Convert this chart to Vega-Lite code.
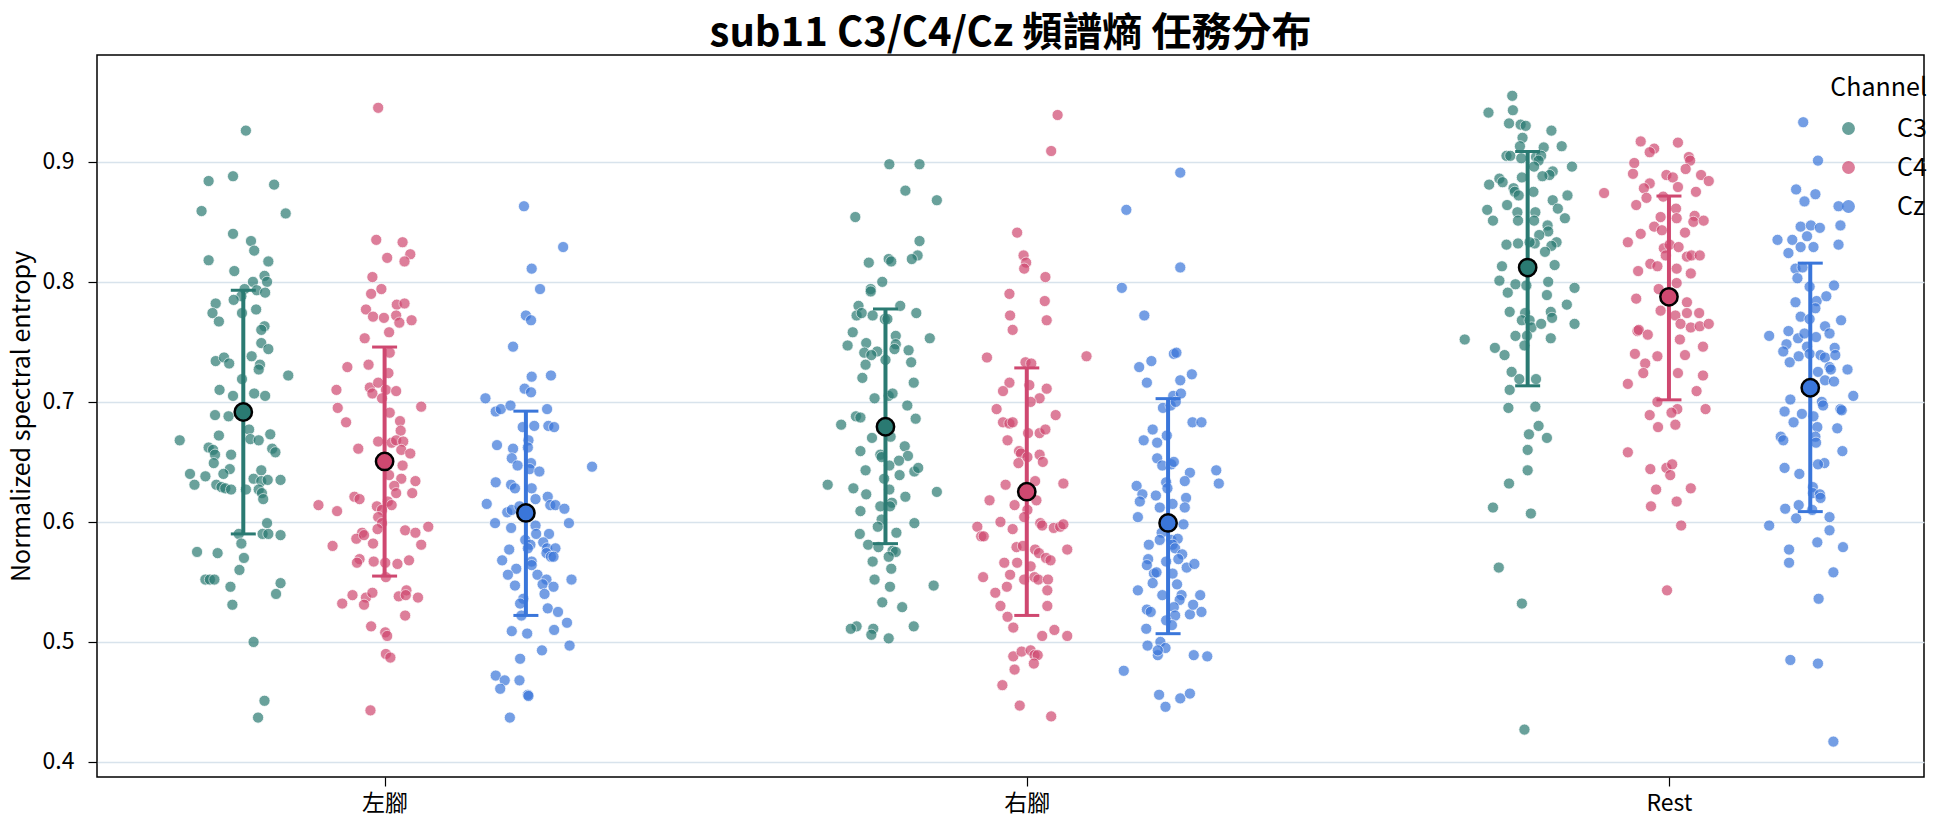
{
"$schema":"https://vega.github.io/schema/vega-lite/v6.json",
"width":1827,"height":722,
"autosize":{"type":"none"},
"padding":{"left":97,"top":55,"right":20,"bottom":50},
"background":"white",
"title":{"text":"sub11 C3/C4/Cz 頻譜熵 任務分布","fontSize":40,"fontWeight":"bold","font":"Noto Sans CJK TC","anchor":"middle","offset":1,"color":"black"},
"config":{"view":{"stroke":"black","strokeWidth":1.5},"font":"Noto Sans CJK TC"},
"datasets":{
"stats":[
{"task":"左腳","channel":"C3","mean":0.6916,"lo":0.590,"hi":0.793},
{"task":"左腳","channel":"C4","mean":0.6504,"lo":0.5549,"hi":0.7457},
{"task":"左腳","channel":"Cz","mean":0.6075,"lo":0.5221,"hi":0.6923},
{"task":"右腳","channel":"C3","mean":0.6793,"lo":0.5819,"hi":0.7774},
{"task":"右腳","channel":"C4","mean":0.6252,"lo":0.5221,"hi":0.7283},
{"task":"右腳","channel":"Cz","mean":0.5992,"lo":0.5069,"hi":0.7027},
{"task":"Rest","channel":"C3","mean":0.8119,"lo":0.7134,"hi":0.9086},
{"task":"Rest","channel":"C4","mean":0.7875,"lo":0.7017,"hi":0.8715},
{"task":"Rest","channel":"Cz","mean":0.7118,"lo":0.6086,"hi":0.8156}
],
"pts":[
{"task":"左腳","channel":"C3","value":0.926,"jitter":0.004},{"task":"左腳","channel":"C3","value":0.884,"jitter":-0.054},{"task":"左腳","channel":"C3","value":0.888,"jitter":-0.016},{"task":"左腳","channel":"C3","value":0.881,"jitter":0.048},{"task":"左腳","channel":"C3","value":0.859,"jitter":-0.065},{"task":"左腳","channel":"C3","value":0.857,"jitter":0.066},{"task":"左腳","channel":"C3","value":0.840,"jitter":-0.016},{"task":"左腳","channel":"C3","value":0.834,"jitter":0.012},{"task":"左腳","channel":"C3","value":0.826,"jitter":0.017},{"task":"左腳","channel":"C3","value":0.818,"jitter":-0.054},{"task":"左腳","channel":"C3","value":0.817,"jitter":0.039},{"task":"左腳","channel":"C3","value":0.809,"jitter":-0.014},{"task":"左腳","channel":"C3","value":0.805,"jitter":0.033},{"task":"左腳","channel":"C3","value":0.800,"jitter":0.037},{"task":"左腳","channel":"C3","value":0.800,"jitter":0.015},{"task":"左腳","channel":"C3","value":0.794,"jitter":0.002},{"task":"左腳","channel":"C3","value":0.793,"jitter":0.021},{"task":"左腳","channel":"C3","value":0.791,"jitter":0.034},{"task":"左腳","channel":"C3","value":0.788,"jitter":-0.003},{"task":"左腳","channel":"C3","value":0.785,"jitter":-0.015},{"task":"左腳","channel":"C3","value":0.782,"jitter":-0.043},{"task":"左腳","channel":"C3","value":0.774,"jitter":-0.048},{"task":"左腳","channel":"C3","value":0.774,"jitter":-0.002},{"task":"左腳","channel":"C3","value":0.777,"jitter":0.020},{"task":"左腳","channel":"C3","value":0.767,"jitter":-0.038},{"task":"左腳","channel":"C3","value":0.763,"jitter":0.033},{"task":"左腳","channel":"C3","value":0.760,"jitter":0.028},{"task":"左腳","channel":"C3","value":0.749,"jitter":0.028},{"task":"左腳","channel":"C3","value":0.744,"jitter":0.039},{"task":"左腳","channel":"C3","value":0.734,"jitter":-0.043},{"task":"左腳","channel":"C3","value":0.737,"jitter":-0.030},{"task":"左腳","channel":"C3","value":0.732,"jitter":-0.022},{"task":"左腳","channel":"C3","value":0.738,"jitter":0.013},{"task":"左腳","channel":"C3","value":0.731,"jitter":0.026},{"task":"左腳","channel":"C3","value":0.727,"jitter":0.024},{"task":"左腳","channel":"C3","value":0.722,"jitter":0.070},{"task":"左腳","channel":"C3","value":0.719,"jitter":-0.002},{"task":"左腳","channel":"C3","value":0.710,"jitter":-0.037},{"task":"左腳","channel":"C3","value":0.705,"jitter":-0.016},{"task":"左腳","channel":"C3","value":0.707,"jitter":0.017},{"task":"左腳","channel":"C3","value":0.705,"jitter":0.034},{"task":"左腳","channel":"C3","value":0.689,"jitter":-0.044},{"task":"左腳","channel":"C3","value":0.688,"jitter":-0.023},{"task":"左腳","channel":"C3","value":0.677,"jitter":0.009},{"task":"左腳","channel":"C3","value":0.669,"jitter":0.011},{"task":"左腳","channel":"C3","value":0.668,"jitter":0.024},{"task":"左腳","channel":"C3","value":0.673,"jitter":0.042},{"task":"左腳","channel":"C3","value":0.672,"jitter":-0.038},{"task":"左腳","channel":"C3","value":0.668,"jitter":-0.099},{"task":"左腳","channel":"C3","value":0.662,"jitter":-0.054},{"task":"左腳","channel":"C3","value":0.660,"jitter":-0.047},{"task":"左腳","channel":"C3","value":0.656,"jitter":-0.044},{"task":"左腳","channel":"C3","value":0.649,"jitter":-0.046},{"task":"左腳","channel":"C3","value":0.661,"jitter":0.045},{"task":"左腳","channel":"C3","value":0.658,"jitter":0.050},{"task":"左腳","channel":"C3","value":0.656,"jitter":-0.019},{"task":"左腳","channel":"C3","value":0.644,"jitter":-0.021},{"task":"左腳","channel":"C3","value":0.640,"jitter":-0.031},{"task":"左腳","channel":"C3","value":0.640,"jitter":-0.083},{"task":"左腳","channel":"C3","value":0.638,"jitter":-0.059},{"task":"左腳","channel":"C3","value":0.631,"jitter":-0.076},{"task":"左腳","channel":"C3","value":0.631,"jitter":-0.042},{"task":"左腳","channel":"C3","value":0.629,"jitter":-0.034},{"task":"左腳","channel":"C3","value":0.628,"jitter":-0.028},{"task":"左腳","channel":"C3","value":0.627,"jitter":-0.019},{"task":"左腳","channel":"C3","value":0.627,"jitter":0.004},{"task":"左腳","channel":"C3","value":0.636,"jitter":0.016},{"task":"左腳","channel":"C3","value":0.643,"jitter":0.028},{"task":"左腳","channel":"C3","value":0.634,"jitter":0.028},{"task":"左腳","channel":"C3","value":0.635,"jitter":0.038},{"task":"左腳","channel":"C3","value":0.635,"jitter":0.058},{"task":"左腳","channel":"C3","value":0.627,"jitter":0.024},{"task":"左腳","channel":"C3","value":0.624,"jitter":0.029},{"task":"左腳","channel":"C3","value":0.619,"jitter":0.031},{"task":"左腳","channel":"C3","value":0.599,"jitter":0.037},{"task":"左腳","channel":"C3","value":0.590,"jitter":-0.007},{"task":"左腳","channel":"C3","value":0.590,"jitter":0.030},{"task":"左腳","channel":"C3","value":0.590,"jitter":0.039},{"task":"左腳","channel":"C3","value":0.589,"jitter":0.058},{"task":"左腳","channel":"C3","value":0.582,"jitter":-0.003},{"task":"左腳","channel":"C3","value":0.570,"jitter":0.001},{"task":"左腳","channel":"C3","value":0.575,"jitter":-0.072},{"task":"左腳","channel":"C3","value":0.574,"jitter":-0.040},{"task":"左腳","channel":"C3","value":0.560,"jitter":-0.006},{"task":"左腳","channel":"C3","value":0.552,"jitter":-0.059},{"task":"左腳","channel":"C3","value":0.552,"jitter":-0.052},{"task":"左腳","channel":"C3","value":0.552,"jitter":-0.045},{"task":"左腳","channel":"C3","value":0.546,"jitter":-0.020},{"task":"左腳","channel":"C3","value":0.549,"jitter":0.058},{"task":"左腳","channel":"C3","value":0.540,"jitter":0.051},{"task":"左腳","channel":"C3","value":0.531,"jitter":-0.017},{"task":"左腳","channel":"C3","value":0.500,"jitter":0.016},{"task":"左腳","channel":"C3","value":0.451,"jitter":0.033},{"task":"左腳","channel":"C3","value":0.437,"jitter":0.023},
{"task":"左腳","channel":"C4","value":0.945,"jitter":-0.010},{"task":"左腳","channel":"C4","value":0.835,"jitter":-0.013},{"task":"左腳","channel":"C4","value":0.833,"jitter":0.028},{"task":"左腳","channel":"C4","value":0.820,"jitter":0.004},{"task":"左腳","channel":"C4","value":0.823,"jitter":0.040},{"task":"左腳","channel":"C4","value":0.817,"jitter":0.031},{"task":"左腳","channel":"C4","value":0.804,"jitter":-0.019},{"task":"左腳","channel":"C4","value":0.794,"jitter":-0.005},{"task":"左腳","channel":"C4","value":0.790,"jitter":-0.021},{"task":"左腳","channel":"C4","value":0.777,"jitter":-0.029},{"task":"左腳","channel":"C4","value":0.781,"jitter":0.019},{"task":"左腳","channel":"C4","value":0.782,"jitter":0.031},{"task":"左腳","channel":"C4","value":0.771,"jitter":-0.018},{"task":"左腳","channel":"C4","value":0.770,"jitter":-0.001},{"task":"左腳","channel":"C4","value":0.772,"jitter":0.018},{"task":"左腳","channel":"C4","value":0.766,"jitter":0.023},{"task":"左腳","channel":"C4","value":0.768,"jitter":0.042},{"task":"左腳","channel":"C4","value":0.758,"jitter":0.007},{"task":"左腳","channel":"C4","value":0.753,"jitter":-0.031},{"task":"左腳","channel":"C4","value":0.741,"jitter":0.008},{"task":"左腳","channel":"C4","value":0.729,"jitter":-0.058},{"task":"左腳","channel":"C4","value":0.731,"jitter":-0.025},{"task":"左腳","channel":"C4","value":0.724,"jitter":0.006},{"task":"左腳","channel":"C4","value":0.710,"jitter":-0.075},{"task":"左腳","channel":"C4","value":0.712,"jitter":-0.023},{"task":"左腳","channel":"C4","value":0.716,"jitter":-0.010},{"task":"左腳","channel":"C4","value":0.707,"jitter":-0.019},{"task":"左腳","channel":"C4","value":0.710,"jitter":0.002},{"task":"左腳","channel":"C4","value":0.709,"jitter":0.018},{"task":"左腳","channel":"C4","value":0.703,"jitter":-0.004},{"task":"左腳","channel":"C4","value":0.695,"jitter":-0.073},{"task":"左腳","channel":"C4","value":0.691,"jitter":0.008},{"task":"左腳","channel":"C4","value":0.696,"jitter":0.057},{"task":"左腳","channel":"C4","value":0.684,"jitter":0.024},{"task":"左腳","channel":"C4","value":0.683,"jitter":-0.060},{"task":"左腳","channel":"C4","value":0.676,"jitter":0.025},{"task":"左腳","channel":"C4","value":0.667,"jitter":-0.010},{"task":"左腳","channel":"C4","value":0.666,"jitter":0.011},{"task":"左腳","channel":"C4","value":0.668,"jitter":0.018},{"task":"左腳","channel":"C4","value":0.667,"jitter":0.029},{"task":"左腳","channel":"C4","value":0.661,"jitter":-0.041},{"task":"左腳","channel":"C4","value":0.660,"jitter":0.026},{"task":"左腳","channel":"C4","value":0.657,"jitter":0.040},{"task":"左腳","channel":"C4","value":0.647,"jitter":0.028},{"task":"左腳","channel":"C4","value":0.639,"jitter":0.007},{"task":"左腳","channel":"C4","value":0.636,"jitter":0.026},{"task":"左腳","channel":"C4","value":0.634,"jitter":0.048},{"task":"左腳","channel":"C4","value":0.630,"jitter":0.015},{"task":"左腳","channel":"C4","value":0.624,"jitter":0.018},{"task":"左腳","channel":"C4","value":0.624,"jitter":0.043},{"task":"左腳","channel":"C4","value":0.621,"jitter":-0.047},{"task":"左腳","channel":"C4","value":0.619,"jitter":-0.039},{"task":"左腳","channel":"C4","value":0.617,"jitter":0.005},{"task":"左腳","channel":"C4","value":0.614,"jitter":0.011},{"task":"左腳","channel":"C4","value":0.614,"jitter":-0.103},{"task":"左腳","channel":"C4","value":0.609,"jitter":-0.074},{"task":"左腳","channel":"C4","value":0.613,"jitter":-0.012},{"task":"左腳","channel":"C4","value":0.610,"jitter":-0.004},{"task":"左腳","channel":"C4","value":0.604,"jitter":-0.010},{"task":"左腳","channel":"C4","value":0.599,"jitter":-0.004},{"task":"左腳","channel":"C4","value":0.594,"jitter":-0.011},{"task":"左腳","channel":"C4","value":0.591,"jitter":-0.035},{"task":"左腳","channel":"C4","value":0.586,"jitter":-0.044},{"task":"左腳","channel":"C4","value":0.589,"jitter":-0.032},{"task":"左腳","channel":"C4","value":0.582,"jitter":-0.018},{"task":"左腳","channel":"C4","value":0.593,"jitter":0.032},{"task":"左腳","channel":"C4","value":0.591,"jitter":0.048},{"task":"左腳","channel":"C4","value":0.596,"jitter":0.068},{"task":"左腳","channel":"C4","value":0.581,"jitter":0.057},{"task":"左腳","channel":"C4","value":0.580,"jitter":-0.081},{"task":"左腳","channel":"C4","value":0.569,"jitter":-0.039},{"task":"左腳","channel":"C4","value":0.566,"jitter":-0.043},{"task":"左腳","channel":"C4","value":0.567,"jitter":-0.017},{"task":"左腳","channel":"C4","value":0.566,"jitter":0.001},{"task":"左腳","channel":"C4","value":0.565,"jitter":0.020},{"task":"左腳","channel":"C4","value":0.568,"jitter":0.038},{"task":"左腳","channel":"C4","value":0.554,"jitter":0.002},{"task":"左腳","channel":"C4","value":0.539,"jitter":-0.050},{"task":"左腳","channel":"C4","value":0.532,"jitter":-0.066},{"task":"左腳","channel":"C4","value":0.537,"jitter":-0.029},{"task":"左腳","channel":"C4","value":0.531,"jitter":-0.032},{"task":"左腳","channel":"C4","value":0.541,"jitter":-0.019},{"task":"左腳","channel":"C4","value":0.538,"jitter":0.022},{"task":"左腳","channel":"C4","value":0.543,"jitter":0.034},{"task":"左腳","channel":"C4","value":0.539,"jitter":0.033},{"task":"左腳","channel":"C4","value":0.537,"jitter":0.052},{"task":"左腳","channel":"C4","value":0.522,"jitter":0.032},{"task":"左腳","channel":"C4","value":0.513,"jitter":-0.021},{"task":"左腳","channel":"C4","value":0.508,"jitter":0.001},{"task":"左腳","channel":"C4","value":0.505,"jitter":0.004},{"task":"左腳","channel":"C4","value":0.490,"jitter":0.002},{"task":"左腳","channel":"C4","value":0.487,"jitter":0.009},{"task":"左腳","channel":"C4","value":0.443,"jitter":-0.022},
{"task":"左腳","channel":"Cz","value":0.863,"jitter":-0.003},{"task":"左腳","channel":"Cz","value":0.829,"jitter":0.058},{"task":"左腳","channel":"Cz","value":0.811,"jitter":0.009},{"task":"左腳","channel":"Cz","value":0.794,"jitter":0.022},{"task":"左腳","channel":"Cz","value":0.772,"jitter":0.000},{"task":"左腳","channel":"Cz","value":0.768,"jitter":0.008},{"task":"左腳","channel":"Cz","value":0.746,"jitter":-0.020},{"task":"左腳","channel":"Cz","value":0.721,"jitter":0.009},{"task":"左腳","channel":"Cz","value":0.722,"jitter":0.039},{"task":"左腳","channel":"Cz","value":0.711,"jitter":-0.002},{"task":"左腳","channel":"Cz","value":0.708,"jitter":0.008},{"task":"左腳","channel":"Cz","value":0.703,"jitter":-0.063},{"task":"左腳","channel":"Cz","value":0.692,"jitter":-0.047},{"task":"左腳","channel":"Cz","value":0.694,"jitter":-0.039},{"task":"左腳","channel":"Cz","value":0.697,"jitter":-0.024},{"task":"左腳","channel":"Cz","value":0.694,"jitter":0.033},{"task":"左腳","channel":"Cz","value":0.679,"jitter":-0.005},{"task":"左腳","channel":"Cz","value":0.680,"jitter":0.013},{"task":"左腳","channel":"Cz","value":0.680,"jitter":0.035},{"task":"左腳","channel":"Cz","value":0.679,"jitter":0.044},{"task":"左腳","channel":"Cz","value":0.668,"jitter":0.004},{"task":"左腳","channel":"Cz","value":0.662,"jitter":0.003},{"task":"左腳","channel":"Cz","value":0.664,"jitter":-0.045},{"task":"左腳","channel":"Cz","value":0.661,"jitter":-0.020},{"task":"左腳","channel":"Cz","value":0.653,"jitter":-0.022},{"task":"左腳","channel":"Cz","value":0.647,"jitter":-0.013},{"task":"左腳","channel":"Cz","value":0.649,"jitter":0.008},{"task":"左腳","channel":"Cz","value":0.644,"jitter":0.006},{"task":"左腳","channel":"Cz","value":0.642,"jitter":0.021},{"task":"左腳","channel":"Cz","value":0.646,"jitter":0.103},{"task":"左腳","channel":"Cz","value":0.633,"jitter":-0.047},{"task":"左腳","channel":"Cz","value":0.631,"jitter":-0.023},{"task":"左腳","channel":"Cz","value":0.628,"jitter":-0.017},{"task":"左腳","channel":"Cz","value":0.628,"jitter":0.009},{"task":"左腳","channel":"Cz","value":0.619,"jitter":0.015},{"task":"左腳","channel":"Cz","value":0.621,"jitter":0.034},{"task":"左腳","channel":"Cz","value":0.614,"jitter":0.038},{"task":"左腳","channel":"Cz","value":0.614,"jitter":0.046},{"task":"左腳","channel":"Cz","value":0.611,"jitter":0.060},{"task":"左腳","channel":"Cz","value":0.615,"jitter":-0.061},{"task":"左腳","channel":"Cz","value":0.608,"jitter":-0.029},{"task":"左腳","channel":"Cz","value":0.610,"jitter":-0.022},{"task":"左腳","channel":"Cz","value":0.613,"jitter":-0.010},{"task":"左腳","channel":"Cz","value":0.599,"jitter":-0.048},{"task":"左腳","channel":"Cz","value":0.595,"jitter":-0.023},{"task":"左腳","channel":"Cz","value":0.597,"jitter":0.015},{"task":"左腳","channel":"Cz","value":0.590,"jitter":0.016},{"task":"左腳","channel":"Cz","value":0.590,"jitter":0.036},{"task":"左腳","channel":"Cz","value":0.599,"jitter":0.067},{"task":"左腳","channel":"Cz","value":0.585,"jitter":-0.001},{"task":"左腳","channel":"Cz","value":0.581,"jitter":0.007},{"task":"左腳","channel":"Cz","value":0.578,"jitter":0.003},{"task":"左腳","channel":"Cz","value":0.583,"jitter":0.027},{"task":"左腳","channel":"Cz","value":0.578,"jitter":0.033},{"task":"左腳","channel":"Cz","value":0.578,"jitter":0.046},{"task":"左腳","channel":"Cz","value":0.574,"jitter":0.032},{"task":"左腳","channel":"Cz","value":0.571,"jitter":0.039},{"task":"左腳","channel":"Cz","value":0.571,"jitter":0.043},{"task":"左腳","channel":"Cz","value":0.577,"jitter":-0.026},{"task":"左腳","channel":"Cz","value":0.568,"jitter":-0.037},{"task":"左腳","channel":"Cz","value":0.567,"jitter":0.009},{"task":"左腳","channel":"Cz","value":0.564,"jitter":0.009},{"task":"左腳","channel":"Cz","value":0.561,"jitter":-0.015},{"task":"左腳","channel":"Cz","value":0.556,"jitter":-0.028},{"task":"左腳","channel":"Cz","value":0.556,"jitter":0.018},{"task":"左腳","channel":"Cz","value":0.552,"jitter":0.032},{"task":"左腳","channel":"Cz","value":0.548,"jitter":0.026},{"task":"左腳","channel":"Cz","value":0.546,"jitter":0.043},{"task":"左腳","channel":"Cz","value":0.552,"jitter":0.071},{"task":"左腳","channel":"Cz","value":0.547,"jitter":-0.017},{"task":"左腳","channel":"Cz","value":0.540,"jitter":0.029},{"task":"左腳","channel":"Cz","value":0.536,"jitter":-0.004},{"task":"左腳","channel":"Cz","value":0.532,"jitter":-0.009},{"task":"左腳","channel":"Cz","value":0.522,"jitter":-0.007},{"task":"左腳","channel":"Cz","value":0.528,"jitter":0.034},{"task":"左腳","channel":"Cz","value":0.525,"jitter":0.050},{"task":"左腳","channel":"Cz","value":0.516,"jitter":0.064},{"task":"左腳","channel":"Cz","value":0.509,"jitter":-0.022},{"task":"左腳","channel":"Cz","value":0.507,"jitter":0.002},{"task":"左腳","channel":"Cz","value":0.510,"jitter":0.044},{"task":"左腳","channel":"Cz","value":0.497,"jitter":0.068},{"task":"左腳","channel":"Cz","value":0.493,"jitter":0.025},{"task":"左腳","channel":"Cz","value":0.486,"jitter":-0.009},{"task":"左腳","channel":"Cz","value":0.472,"jitter":-0.047},{"task":"左腳","channel":"Cz","value":0.468,"jitter":-0.033},{"task":"左腳","channel":"Cz","value":0.461,"jitter":-0.040},{"task":"左腳","channel":"Cz","value":0.468,"jitter":-0.010},{"task":"左腳","channel":"Cz","value":0.456,"jitter":0.003},{"task":"左腳","channel":"Cz","value":0.455,"jitter":0.004},{"task":"左腳","channel":"Cz","value":0.437,"jitter":-0.025},
{"task":"右腳","channel":"C3","value":0.898,"jitter":0.006},{"task":"右腳","channel":"C3","value":0.898,"jitter":0.053},{"task":"右腳","channel":"C3","value":0.876,"jitter":0.031},{"task":"右腳","channel":"C3","value":0.868,"jitter":0.080},{"task":"右腳","channel":"C3","value":0.854,"jitter":-0.047},{"task":"右腳","channel":"C3","value":0.834,"jitter":0.053},{"task":"右腳","channel":"C3","value":0.822,"jitter":0.050},{"task":"右腳","channel":"C3","value":0.819,"jitter":0.041},{"task":"右腳","channel":"C3","value":0.816,"jitter":-0.026},{"task":"右腳","channel":"C3","value":0.819,"jitter":0.005},{"task":"右腳","channel":"C3","value":0.817,"jitter":0.009},{"task":"右腳","channel":"C3","value":0.800,"jitter":-0.005},{"task":"右腳","channel":"C3","value":0.794,"jitter":-0.023},{"task":"右腳","channel":"C3","value":0.792,"jitter":-0.023},{"task":"右腳","channel":"C3","value":0.780,"jitter":-0.042},{"task":"右腳","channel":"C3","value":0.772,"jitter":-0.045},{"task":"右腳","channel":"C3","value":0.774,"jitter":-0.037},{"task":"右腳","channel":"C3","value":0.772,"jitter":-0.020},{"task":"右腳","channel":"C3","value":0.769,"jitter":-0.001},{"task":"右腳","channel":"C3","value":0.769,"jitter":0.003},{"task":"右腳","channel":"C3","value":0.780,"jitter":0.023},{"task":"右腳","channel":"C3","value":0.774,"jitter":0.048},{"task":"右腳","channel":"C3","value":0.758,"jitter":-0.051},{"task":"右腳","channel":"C3","value":0.747,"jitter":-0.059},{"task":"右腳","channel":"C3","value":0.749,"jitter":-0.030},{"task":"右腳","channel":"C3","value":0.741,"jitter":-0.033},{"task":"右腳","channel":"C3","value":0.742,"jitter":-0.013},{"task":"右腳","channel":"C3","value":0.739,"jitter":-0.022},{"task":"右腳","channel":"C3","value":0.731,"jitter":-0.031},{"task":"右腳","channel":"C3","value":0.735,"jitter":0.000},{"task":"右腳","channel":"C3","value":0.755,"jitter":0.016},{"task":"右腳","channel":"C3","value":0.748,"jitter":0.016},{"task":"右腳","channel":"C3","value":0.744,"jitter":0.014},{"task":"右腳","channel":"C3","value":0.743,"jitter":0.036},{"task":"右腳","channel":"C3","value":0.733,"jitter":0.040},{"task":"右腳","channel":"C3","value":0.753,"jitter":0.069},{"task":"右腳","channel":"C3","value":0.720,"jitter":-0.036},{"task":"右腳","channel":"C3","value":0.716,"jitter":0.044},{"task":"右腳","channel":"C3","value":0.703,"jitter":-0.017},{"task":"右腳","channel":"C3","value":0.705,"jitter":0.005},{"task":"右腳","channel":"C3","value":0.707,"jitter":0.011},{"task":"右腳","channel":"C3","value":0.697,"jitter":0.034},{"task":"右腳","channel":"C3","value":0.688,"jitter":-0.046},{"task":"右腳","channel":"C3","value":0.687,"jitter":-0.039},{"task":"右腳","channel":"C3","value":0.681,"jitter":-0.069},{"task":"右腳","channel":"C3","value":0.686,"jitter":0.047},{"task":"右腳","channel":"C3","value":0.670,"jitter":-0.021},{"task":"右腳","channel":"C3","value":0.671,"jitter":0.008},{"task":"右腳","channel":"C3","value":0.659,"jitter":-0.039},{"task":"右腳","channel":"C3","value":0.656,"jitter":-0.008},{"task":"右腳","channel":"C3","value":0.654,"jitter":-0.006},{"task":"右腳","channel":"C3","value":0.663,"jitter":0.030},{"task":"右腳","channel":"C3","value":0.655,"jitter":0.035},{"task":"右腳","channel":"C3","value":0.651,"jitter":0.021},{"task":"右腳","channel":"C3","value":0.647,"jitter":0.006},{"task":"右腳","channel":"C3","value":0.643,"jitter":-0.031},{"task":"右腳","channel":"C3","value":0.642,"jitter":0.045},{"task":"右腳","channel":"C3","value":0.645,"jitter":0.051},{"task":"右腳","channel":"C3","value":0.639,"jitter":0.022},{"task":"右腳","channel":"C3","value":0.636,"jitter":-0.002},{"task":"右腳","channel":"C3","value":0.631,"jitter":-0.090},{"task":"右腳","channel":"C3","value":0.628,"jitter":-0.050},{"task":"右腳","channel":"C3","value":0.623,"jitter":-0.030},{"task":"右腳","channel":"C3","value":0.627,"jitter":0.006},{"task":"右腳","channel":"C3","value":0.616,"jitter":0.010},{"task":"右腳","channel":"C3","value":0.613,"jitter":0.007},{"task":"右腳","channel":"C3","value":0.621,"jitter":0.031},{"task":"右腳","channel":"C3","value":0.625,"jitter":0.080},{"task":"右腳","channel":"C3","value":0.613,"jitter":-0.008},{"task":"右腳","channel":"C3","value":0.609,"jitter":-0.039},{"task":"右腳","channel":"C3","value":0.602,"jitter":-0.006},{"task":"右腳","channel":"C3","value":0.596,"jitter":-0.012},{"task":"右腳","channel":"C3","value":0.591,"jitter":0.017},{"task":"右腳","channel":"C3","value":0.599,"jitter":0.045},{"task":"右腳","channel":"C3","value":0.590,"jitter":-0.040},{"task":"右腳","channel":"C3","value":0.581,"jitter":-0.027},{"task":"右腳","channel":"C3","value":0.579,"jitter":-0.011},{"task":"右腳","channel":"C3","value":0.576,"jitter":0.011},{"task":"右腳","channel":"C3","value":0.575,"jitter":0.016},{"task":"右腳","channel":"C3","value":0.571,"jitter":0.005},{"task":"右腳","channel":"C3","value":0.567,"jitter":-0.020},{"task":"右腳","channel":"C3","value":0.561,"jitter":0.009},{"task":"右腳","channel":"C3","value":0.552,"jitter":-0.017},{"task":"右腳","channel":"C3","value":0.546,"jitter":0.007},{"task":"右腳","channel":"C3","value":0.547,"jitter":0.075},{"task":"右腳","channel":"C3","value":0.533,"jitter":-0.005},{"task":"右腳","channel":"C3","value":0.529,"jitter":0.026},{"task":"右腳","channel":"C3","value":0.513,"jitter":0.044},{"task":"右腳","channel":"C3","value":0.513,"jitter":-0.045},{"task":"右腳","channel":"C3","value":0.511,"jitter":-0.054},{"task":"右腳","channel":"C3","value":0.511,"jitter":-0.019},{"task":"右腳","channel":"C3","value":0.506,"jitter":-0.022},{"task":"右腳","channel":"C3","value":0.503,"jitter":0.005},
{"task":"右腳","channel":"C4","value":0.939,"jitter":0.048},{"task":"右腳","channel":"C4","value":0.909,"jitter":0.038},{"task":"右腳","channel":"C4","value":0.841,"jitter":-0.015},{"task":"右腳","channel":"C4","value":0.822,"jitter":-0.005},{"task":"右腳","channel":"C4","value":0.816,"jitter":-0.001},{"task":"右腳","channel":"C4","value":0.811,"jitter":-0.004},{"task":"右腳","channel":"C4","value":0.804,"jitter":0.029},{"task":"右腳","channel":"C4","value":0.790,"jitter":-0.027},{"task":"右腳","channel":"C4","value":0.784,"jitter":0.028},{"task":"右腳","channel":"C4","value":0.772,"jitter":-0.026},{"task":"右腳","channel":"C4","value":0.768,"jitter":0.031},{"task":"右腳","channel":"C4","value":0.760,"jitter":-0.022},{"task":"右腳","channel":"C4","value":0.737,"jitter":-0.062},{"task":"右腳","channel":"C4","value":0.738,"jitter":0.093},{"task":"右腳","channel":"C4","value":0.733,"jitter":-0.002},{"task":"右腳","channel":"C4","value":0.732,"jitter":0.007},{"task":"右腳","channel":"C4","value":0.716,"jitter":-0.027},{"task":"右腳","channel":"C4","value":0.709,"jitter":-0.037},{"task":"右腳","channel":"C4","value":0.714,"jitter":0.004},{"task":"右腳","channel":"C4","value":0.711,"jitter":0.031},{"task":"右腳","channel":"C4","value":0.703,"jitter":0.020},{"task":"右腳","channel":"C4","value":0.700,"jitter":0.006},{"task":"右腳","channel":"C4","value":0.694,"jitter":-0.047},{"task":"右腳","channel":"C4","value":0.683,"jitter":-0.037},{"task":"右腳","channel":"C4","value":0.682,"jitter":-0.027},{"task":"右腳","channel":"C4","value":0.683,"jitter":-0.022},{"task":"右腳","channel":"C4","value":0.689,"jitter":0.045},{"task":"右腳","channel":"C4","value":0.674,"jitter":0.002},{"task":"右腳","channel":"C4","value":0.674,"jitter":0.020},{"task":"右腳","channel":"C4","value":0.677,"jitter":0.029},{"task":"右腳","channel":"C4","value":0.668,"jitter":-0.030},{"task":"右腳","channel":"C4","value":0.659,"jitter":-0.012},{"task":"右腳","channel":"C4","value":0.657,"jitter":-0.009},{"task":"右腳","channel":"C4","value":0.649,"jitter":-0.013},{"task":"右腳","channel":"C4","value":0.656,"jitter":0.020},{"task":"右腳","channel":"C4","value":0.650,"jitter":0.025},{"task":"右腳","channel":"C4","value":0.654,"jitter":0.001},{"task":"右腳","channel":"C4","value":0.634,"jitter":0.013},{"task":"右腳","channel":"C4","value":0.631,"jitter":-0.033},{"task":"右腳","channel":"C4","value":0.632,"jitter":0.057},{"task":"右腳","channel":"C4","value":0.618,"jitter":-0.058},{"task":"右腳","channel":"C4","value":0.614,"jitter":-0.019},{"task":"右腳","channel":"C4","value":0.618,"jitter":0.015},{"task":"右腳","channel":"C4","value":0.610,"jitter":0.001},{"task":"右腳","channel":"C4","value":0.604,"jitter":-0.004},{"task":"右腳","channel":"C4","value":0.600,"jitter":-0.041},{"task":"右腳","channel":"C4","value":0.594,"jitter":-0.022},{"task":"右腳","channel":"C4","value":0.596,"jitter":-0.077},{"task":"右腳","channel":"C4","value":0.588,"jitter":-0.071},{"task":"右腳","channel":"C4","value":0.588,"jitter":-0.067},{"task":"右腳","channel":"C4","value":0.599,"jitter":0.021},{"task":"右腳","channel":"C4","value":0.597,"jitter":0.024},{"task":"右腳","channel":"C4","value":0.595,"jitter":0.042},{"task":"右腳","channel":"C4","value":0.596,"jitter":0.052},{"task":"右腳","channel":"C4","value":0.598,"jitter":0.057},{"task":"右腳","channel":"C4","value":0.579,"jitter":-0.016},{"task":"右腳","channel":"C4","value":0.580,"jitter":-0.006},{"task":"右腳","channel":"C4","value":0.577,"jitter":0.013},{"task":"右腳","channel":"C4","value":0.574,"jitter":0.019},{"task":"右腳","channel":"C4","value":0.570,"jitter":0.030},{"task":"右腳","channel":"C4","value":0.568,"jitter":0.037},{"task":"右腳","channel":"C4","value":0.577,"jitter":0.063},{"task":"右腳","channel":"C4","value":0.566,"jitter":-0.035},{"task":"右腳","channel":"C4","value":0.566,"jitter":-0.015},{"task":"右腳","channel":"C4","value":0.563,"jitter":0.006},{"task":"右腳","channel":"C4","value":0.556,"jitter":-0.026},{"task":"右腳","channel":"C4","value":0.552,"jitter":-0.004},{"task":"右腳","channel":"C4","value":0.554,"jitter":0.012},{"task":"右腳","channel":"C4","value":0.552,"jitter":0.018},{"task":"右腳","channel":"C4","value":0.552,"jitter":0.033},{"task":"右腳","channel":"C4","value":0.554,"jitter":-0.068},{"task":"右腳","channel":"C4","value":0.546,"jitter":-0.031},{"task":"右腳","channel":"C4","value":0.541,"jitter":-0.049},{"task":"右腳","channel":"C4","value":0.543,"jitter":0.032},{"task":"右腳","channel":"C4","value":0.530,"jitter":-0.041},{"task":"右腳","channel":"C4","value":0.530,"jitter":0.032},{"task":"右腳","channel":"C4","value":0.521,"jitter":-0.030},{"task":"右腳","channel":"C4","value":0.512,"jitter":-0.021},{"task":"右腳","channel":"C4","value":0.505,"jitter":0.024},{"task":"右腳","channel":"C4","value":0.510,"jitter":0.043},{"task":"右腳","channel":"C4","value":0.505,"jitter":0.063},{"task":"右腳","channel":"C4","value":0.488,"jitter":-0.021},{"task":"右腳","channel":"C4","value":0.492,"jitter":-0.008},{"task":"右腳","channel":"C4","value":0.493,"jitter":0.006},{"task":"右腳","channel":"C4","value":0.489,"jitter":0.012},{"task":"右腳","channel":"C4","value":0.489,"jitter":0.017},{"task":"右腳","channel":"C4","value":0.477,"jitter":-0.019},{"task":"右腳","channel":"C4","value":0.482,"jitter":0.011},{"task":"右腳","channel":"C4","value":0.464,"jitter":-0.038},{"task":"右腳","channel":"C4","value":0.447,"jitter":-0.011},{"task":"右腳","channel":"C4","value":0.438,"jitter":0.038},
{"task":"右腳","channel":"Cz","value":0.891,"jitter":0.019},{"task":"右腳","channel":"Cz","value":0.860,"jitter":-0.065},{"task":"右腳","channel":"Cz","value":0.812,"jitter":0.019},{"task":"右腳","channel":"Cz","value":0.795,"jitter":-0.072},{"task":"右腳","channel":"Cz","value":0.772,"jitter":-0.037},{"task":"右腳","channel":"Cz","value":0.740,"jitter":0.009},{"task":"右腳","channel":"Cz","value":0.741,"jitter":0.013},{"task":"右腳","channel":"Cz","value":0.734,"jitter":-0.026},{"task":"右腳","channel":"Cz","value":0.729,"jitter":-0.045},{"task":"右腳","channel":"Cz","value":0.718,"jitter":0.019},{"task":"右腳","channel":"Cz","value":0.723,"jitter":0.037},{"task":"右腳","channel":"Cz","value":0.716,"jitter":-0.033},{"task":"右腳","channel":"Cz","value":0.705,"jitter":0.008},{"task":"右腳","channel":"Cz","value":0.707,"jitter":0.020},{"task":"右腳","channel":"Cz","value":0.695,"jitter":-0.008},{"task":"右腳","channel":"Cz","value":0.697,"jitter":0.004},{"task":"右腳","channel":"Cz","value":0.700,"jitter":0.012},{"task":"右腳","channel":"Cz","value":0.683,"jitter":0.038},{"task":"右腳","channel":"Cz","value":0.683,"jitter":0.052},{"task":"右腳","channel":"Cz","value":0.677,"jitter":-0.024},{"task":"右腳","channel":"Cz","value":0.668,"jitter":-0.038},{"task":"右腳","channel":"Cz","value":0.666,"jitter":-0.017},{"task":"右腳","channel":"Cz","value":0.672,"jitter":-0.002},{"task":"右腳","channel":"Cz","value":0.653,"jitter":-0.017},{"task":"右腳","channel":"Cz","value":0.647,"jitter":-0.009},{"task":"右腳","channel":"Cz","value":0.648,"jitter":0.005},{"task":"右腳","channel":"Cz","value":0.650,"jitter":0.009},{"task":"右腳","channel":"Cz","value":0.641,"jitter":0.034},{"task":"右腳","channel":"Cz","value":0.634,"jitter":0.026},{"task":"右腳","channel":"Cz","value":0.643,"jitter":0.075},{"task":"右腳","channel":"Cz","value":0.632,"jitter":0.079},{"task":"右腳","channel":"Cz","value":0.630,"jitter":-0.049},{"task":"右腳","channel":"Cz","value":0.623,"jitter":-0.040},{"task":"右腳","channel":"Cz","value":0.617,"jitter":-0.044},{"task":"右腳","channel":"Cz","value":0.622,"jitter":-0.019},{"task":"右腳","channel":"Cz","value":0.633,"jitter":-0.003},{"task":"右腳","channel":"Cz","value":0.628,"jitter":-0.001},{"task":"右腳","channel":"Cz","value":0.615,"jitter":0.007},{"task":"右腳","channel":"Cz","value":0.620,"jitter":0.028},{"task":"右腳","channel":"Cz","value":0.612,"jitter":0.026},{"task":"右腳","channel":"Cz","value":0.612,"jitter":-0.013},{"task":"右腳","channel":"Cz","value":0.604,"jitter":-0.047},{"task":"右腳","channel":"Cz","value":0.598,"jitter":0.024},{"task":"右腳","channel":"Cz","value":0.591,"jitter":-0.010},{"task":"右腳","channel":"Cz","value":0.585,"jitter":-0.013},{"task":"右腳","channel":"Cz","value":0.581,"jitter":-0.030},{"task":"右腳","channel":"Cz","value":0.585,"jitter":0.005},{"task":"右腳","channel":"Cz","value":0.586,"jitter":0.015},{"task":"右腳","channel":"Cz","value":0.581,"jitter":0.007},{"task":"右腳","channel":"Cz","value":0.578,"jitter":0.011},{"task":"右腳","channel":"Cz","value":0.573,"jitter":0.022},{"task":"右腳","channel":"Cz","value":0.569,"jitter":-0.031},{"task":"右腳","channel":"Cz","value":0.564,"jitter":-0.033},{"task":"右腳","channel":"Cz","value":0.567,"jitter":-0.003},{"task":"右腳","channel":"Cz","value":0.569,"jitter":0.016},{"task":"右腳","channel":"Cz","value":0.562,"jitter":0.029},{"task":"右腳","channel":"Cz","value":0.565,"jitter":0.041},{"task":"右腳","channel":"Cz","value":0.557,"jitter":-0.022},{"task":"右腳","channel":"Cz","value":0.558,"jitter":-0.018},{"task":"右腳","channel":"Cz","value":0.549,"jitter":-0.024},{"task":"右腳","channel":"Cz","value":0.557,"jitter":0.007},{"task":"右腳","channel":"Cz","value":0.548,"jitter":0.014},{"task":"右腳","channel":"Cz","value":0.543,"jitter":-0.047},{"task":"右腳","channel":"Cz","value":0.539,"jitter":-0.009},{"task":"右腳","channel":"Cz","value":0.539,"jitter":0.021},{"task":"右腳","channel":"Cz","value":0.535,"jitter":0.018},{"task":"右腳","channel":"Cz","value":0.539,"jitter":0.050},{"task":"右腳","channel":"Cz","value":0.527,"jitter":-0.033},{"task":"右腳","channel":"Cz","value":0.525,"jitter":-0.027},{"task":"右腳","channel":"Cz","value":0.529,"jitter":0.009},{"task":"右腳","channel":"Cz","value":0.522,"jitter":0.011},{"task":"右腳","channel":"Cz","value":0.523,"jitter":0.034},{"task":"右腳","channel":"Cz","value":0.531,"jitter":0.039},{"task":"右腳","channel":"Cz","value":0.525,"jitter":0.052},{"task":"右腳","channel":"Cz","value":0.518,"jitter":-0.003},{"task":"右腳","channel":"Cz","value":0.514,"jitter":0.006},{"task":"右腳","channel":"Cz","value":0.511,"jitter":-0.034},{"task":"右腳","channel":"Cz","value":0.497,"jitter":-0.032},{"task":"右腳","channel":"Cz","value":0.500,"jitter":-0.012},{"task":"右腳","channel":"Cz","value":0.495,"jitter":-0.004},{"task":"右腳","channel":"Cz","value":0.489,"jitter":-0.016},{"task":"右腳","channel":"Cz","value":0.489,"jitter":0.040},{"task":"右腳","channel":"Cz","value":0.488,"jitter":0.061},{"task":"右腳","channel":"Cz","value":0.476,"jitter":-0.069},{"task":"右腳","channel":"Cz","value":0.456,"jitter":-0.014},{"task":"右腳","channel":"Cz","value":0.446,"jitter":-0.004},{"task":"右腳","channel":"Cz","value":0.453,"jitter":0.019},{"task":"右腳","channel":"Cz","value":0.457,"jitter":0.034},{"task":"右腳","channel":"Cz","value":0.493,"jitter":-0.016},
{"task":"Rest","channel":"C3","value":0.955,"jitter":-0.024},{"task":"Rest","channel":"C3","value":0.941,"jitter":-0.061},{"task":"Rest","channel":"C3","value":0.943,"jitter":-0.023},{"task":"Rest","channel":"C3","value":0.932,"jitter":-0.029},{"task":"Rest","channel":"C3","value":0.931,"jitter":-0.011},{"task":"Rest","channel":"C3","value":0.930,"jitter":-0.003},{"task":"Rest","channel":"C3","value":0.926,"jitter":0.037},{"task":"Rest","channel":"C3","value":0.920,"jitter":-0.008},{"task":"Rest","channel":"C3","value":0.913,"jitter":-0.012},{"task":"Rest","channel":"C3","value":0.913,"jitter":0.053},{"task":"Rest","channel":"C3","value":0.912,"jitter":0.025},{"task":"Rest","channel":"C3","value":0.905,"jitter":-0.033},{"task":"Rest","channel":"C3","value":0.905,"jitter":-0.027},{"task":"Rest","channel":"C3","value":0.903,"jitter":-0.010},{"task":"Rest","channel":"C3","value":0.904,"jitter":0.013},{"task":"Rest","channel":"C3","value":0.905,"jitter":0.021},{"task":"Rest","channel":"C3","value":0.901,"jitter":0.017},{"task":"Rest","channel":"C3","value":0.896,"jitter":0.010},{"task":"Rest","channel":"C3","value":0.896,"jitter":0.069},{"task":"Rest","channel":"C3","value":0.892,"jitter":0.039},{"task":"Rest","channel":"C3","value":0.889,"jitter":0.034},{"task":"Rest","channel":"C3","value":0.888,"jitter":0.023},{"task":"Rest","channel":"C3","value":0.887,"jitter":-0.009},{"task":"Rest","channel":"C3","value":0.881,"jitter":-0.060},{"task":"Rest","channel":"C3","value":0.886,"jitter":-0.044},{"task":"Rest","channel":"C3","value":0.883,"jitter":-0.039},{"task":"Rest","channel":"C3","value":0.878,"jitter":-0.022},{"task":"Rest","channel":"C3","value":0.875,"jitter":-0.020},{"task":"Rest","channel":"C3","value":0.872,"jitter":-0.014},{"task":"Rest","channel":"C3","value":0.875,"jitter":0.009},{"task":"Rest","channel":"C3","value":0.872,"jitter":0.062},{"task":"Rest","channel":"C3","value":0.864,"jitter":-0.032},{"task":"Rest","channel":"C3","value":0.860,"jitter":-0.063},{"task":"Rest","channel":"C3","value":0.851,"jitter":-0.054},{"task":"Rest","channel":"C3","value":0.858,"jitter":-0.016},{"task":"Rest","channel":"C3","value":0.851,"jitter":-0.015},{"task":"Rest","channel":"C3","value":0.858,"jitter":0.012},{"task":"Rest","channel":"C3","value":0.851,"jitter":0.010},{"task":"Rest","channel":"C3","value":0.868,"jitter":0.039},{"task":"Rest","channel":"C3","value":0.861,"jitter":0.047},{"task":"Rest","channel":"C3","value":0.853,"jitter":0.058},{"task":"Rest","channel":"C3","value":0.847,"jitter":0.031},{"task":"Rest","channel":"C3","value":0.842,"jitter":0.032},{"task":"Rest","channel":"C3","value":0.839,"jitter":0.018},{"task":"Rest","channel":"C3","value":0.833,"jitter":0.045},{"task":"Rest","channel":"C3","value":0.830,"jitter":0.037},{"task":"Rest","channel":"C3","value":0.825,"jitter":0.027},{"task":"Rest","channel":"C3","value":0.832,"jitter":0.011},{"task":"Rest","channel":"C3","value":0.833,"jitter":0.003},{"task":"Rest","channel":"C3","value":0.832,"jitter":-0.015},{"task":"Rest","channel":"C3","value":0.831,"jitter":-0.033},{"task":"Rest","channel":"C3","value":0.813,"jitter":-0.040},{"task":"Rest","channel":"C3","value":0.814,"jitter":0.042},{"task":"Rest","channel":"C3","value":0.801,"jitter":-0.044},{"task":"Rest","channel":"C3","value":0.791,"jitter":-0.031},{"task":"Rest","channel":"C3","value":0.798,"jitter":-0.019},{"task":"Rest","channel":"C3","value":0.797,"jitter":-0.002},{"task":"Rest","channel":"C3","value":0.800,"jitter":0.032},{"task":"Rest","channel":"C3","value":0.789,"jitter":0.030},{"task":"Rest","channel":"C3","value":0.795,"jitter":0.073},{"task":"Rest","channel":"C3","value":0.781,"jitter":0.061},{"task":"Rest","channel":"C3","value":0.775,"jitter":-0.028},{"task":"Rest","channel":"C3","value":0.774,"jitter":-0.004},{"task":"Rest","channel":"C3","value":0.768,"jitter":-0.009},{"task":"Rest","channel":"C3","value":0.768,"jitter":0.003},{"task":"Rest","channel":"C3","value":0.762,"jitter":0.006},{"task":"Rest","channel":"C3","value":0.765,"jitter":0.021},{"task":"Rest","channel":"C3","value":0.775,"jitter":0.036},{"task":"Rest","channel":"C3","value":0.770,"jitter":0.038},{"task":"Rest","channel":"C3","value":0.765,"jitter":0.073},{"task":"Rest","channel":"C3","value":0.755,"jitter":-0.019},{"task":"Rest","channel":"C3","value":0.755,"jitter":-0.001},{"task":"Rest","channel":"C3","value":0.747,"jitter":-0.005},{"task":"Rest","channel":"C3","value":0.753,"jitter":0.036},{"task":"Rest","channel":"C3","value":0.752,"jitter":-0.098},{"task":"Rest","channel":"C3","value":0.745,"jitter":-0.051},{"task":"Rest","channel":"C3","value":0.739,"jitter":-0.036},{"task":"Rest","channel":"C3","value":0.725,"jitter":-0.025},{"task":"Rest","channel":"C3","value":0.719,"jitter":-0.013},{"task":"Rest","channel":"C3","value":0.719,"jitter":0.013},{"task":"Rest","channel":"C3","value":0.710,"jitter":-0.028},{"task":"Rest","channel":"C3","value":0.695,"jitter":-0.030},{"task":"Rest","channel":"C3","value":0.696,"jitter":0.012},{"task":"Rest","channel":"C3","value":0.680,"jitter":0.017},{"task":"Rest","channel":"C3","value":0.673,"jitter":0.002},{"task":"Rest","channel":"C3","value":0.670,"jitter":0.030},{"task":"Rest","channel":"C3","value":0.660,"jitter":0.000},{"task":"Rest","channel":"C3","value":0.643,"jitter":0.000},{"task":"Rest","channel":"C3","value":0.632,"jitter":-0.029},{"task":"Rest","channel":"C3","value":0.612,"jitter":-0.054},{"task":"Rest","channel":"C3","value":0.607,"jitter":0.005},{"task":"Rest","channel":"C3","value":0.562,"jitter":-0.045},{"task":"Rest","channel":"C3","value":0.532,"jitter":-0.009},{"task":"Rest","channel":"C3","value":0.427,"jitter":-0.005},
{"task":"Rest","channel":"C4","value":0.917,"jitter":-0.044},{"task":"Rest","channel":"C4","value":0.911,"jitter":-0.023},{"task":"Rest","channel":"C4","value":0.908,"jitter":-0.030},{"task":"Rest","channel":"C4","value":0.916,"jitter":0.014},{"task":"Rest","channel":"C4","value":0.904,"jitter":0.031},{"task":"Rest","channel":"C4","value":0.901,"jitter":0.033},{"task":"Rest","channel":"C4","value":0.899,"jitter":-0.054},{"task":"Rest","channel":"C4","value":0.890,"jitter":-0.056},{"task":"Rest","channel":"C4","value":0.894,"jitter":0.026},{"task":"Rest","channel":"C4","value":0.889,"jitter":-0.004},{"task":"Rest","channel":"C4","value":0.887,"jitter":0.006},{"task":"Rest","channel":"C4","value":0.889,"jitter":0.050},{"task":"Rest","channel":"C4","value":0.884,"jitter":0.062},{"task":"Rest","channel":"C4","value":0.882,"jitter":-0.030},{"task":"Rest","channel":"C4","value":0.878,"jitter":-0.039},{"task":"Rest","channel":"C4","value":0.870,"jitter":-0.035},{"task":"Rest","channel":"C4","value":0.871,"jitter":-0.009},{"task":"Rest","channel":"C4","value":0.879,"jitter":0.014},{"task":"Rest","channel":"C4","value":0.875,"jitter":0.042},{"task":"Rest","channel":"C4","value":0.874,"jitter":-0.101},{"task":"Rest","channel":"C4","value":0.864,"jitter":-0.051},{"task":"Rest","channel":"C4","value":0.861,"jitter":0.011},{"task":"Rest","channel":"C4","value":0.853,"jitter":0.012},{"task":"Rest","channel":"C4","value":0.854,"jitter":-0.013},{"task":"Rest","channel":"C4","value":0.846,"jitter":-0.023},{"task":"Rest","channel":"C4","value":0.843,"jitter":-0.011},{"task":"Rest","channel":"C4","value":0.841,"jitter":0.025},{"task":"Rest","channel":"C4","value":0.855,"jitter":0.040},{"task":"Rest","channel":"C4","value":0.850,"jitter":0.038},{"task":"Rest","channel":"C4","value":0.851,"jitter":0.054},{"task":"Rest","channel":"C4","value":0.840,"jitter":-0.044},{"task":"Rest","channel":"C4","value":0.833,"jitter":-0.064},{"task":"Rest","channel":"C4","value":0.828,"jitter":-0.008},{"task":"Rest","channel":"C4","value":0.831,"jitter":0.001},{"task":"Rest","channel":"C4","value":0.829,"jitter":0.015},{"task":"Rest","channel":"C4","value":0.822,"jitter":-0.005},{"task":"Rest","channel":"C4","value":0.821,"jitter":0.028},{"task":"Rest","channel":"C4","value":0.822,"jitter":0.035},{"task":"Rest","channel":"C4","value":0.822,"jitter":0.048},{"task":"Rest","channel":"C4","value":0.807,"jitter":0.034},{"task":"Rest","channel":"C4","value":0.811,"jitter":0.012},{"task":"Rest","channel":"C4","value":0.815,"jitter":-0.029},{"task":"Rest","channel":"C4","value":0.813,"jitter":-0.018},{"task":"Rest","channel":"C4","value":0.809,"jitter":-0.048},{"task":"Rest","channel":"C4","value":0.799,"jitter":0.012},{"task":"Rest","channel":"C4","value":0.794,"jitter":-0.016},{"task":"Rest","channel":"C4","value":0.786,"jitter":-0.051},{"task":"Rest","channel":"C4","value":0.783,"jitter":0.028},{"task":"Rest","channel":"C4","value":0.776,"jitter":-0.013},{"task":"Rest","channel":"C4","value":0.772,"jitter":0.010},{"task":"Rest","channel":"C4","value":0.774,"jitter":0.028},{"task":"Rest","channel":"C4","value":0.774,"jitter":0.047},{"task":"Rest","channel":"C4","value":0.765,"jitter":0.018},{"task":"Rest","channel":"C4","value":0.762,"jitter":0.034},{"task":"Rest","channel":"C4","value":0.763,"jitter":0.048},{"task":"Rest","channel":"C4","value":0.765,"jitter":0.062},{"task":"Rest","channel":"C4","value":0.759,"jitter":-0.049},{"task":"Rest","channel":"C4","value":0.760,"jitter":-0.047},{"task":"Rest","channel":"C4","value":0.756,"jitter":-0.033},{"task":"Rest","channel":"C4","value":0.752,"jitter":0.017},{"task":"Rest","channel":"C4","value":0.746,"jitter":0.053},{"task":"Rest","channel":"C4","value":0.740,"jitter":-0.053},{"task":"Rest","channel":"C4","value":0.738,"jitter":-0.018},{"task":"Rest","channel":"C4","value":0.739,"jitter":0.025},{"task":"Rest","channel":"C4","value":0.732,"jitter":-0.037},{"task":"Rest","channel":"C4","value":0.724,"jitter":-0.040},{"task":"Rest","channel":"C4","value":0.724,"jitter":0.014},{"task":"Rest","channel":"C4","value":0.722,"jitter":0.053},{"task":"Rest","channel":"C4","value":0.715,"jitter":-0.064},{"task":"Rest","channel":"C4","value":0.709,"jitter":0.043},{"task":"Rest","channel":"C4","value":0.700,"jitter":-0.018},{"task":"Rest","channel":"C4","value":0.694,"jitter":0.013},{"task":"Rest","channel":"C4","value":0.691,"jitter":0.004},{"task":"Rest","channel":"C4","value":0.694,"jitter":0.057},{"task":"Rest","channel":"C4","value":0.689,"jitter":-0.030},{"task":"Rest","channel":"C4","value":0.679,"jitter":-0.017},{"task":"Rest","channel":"C4","value":0.681,"jitter":0.010},{"task":"Rest","channel":"C4","value":0.658,"jitter":-0.064},{"task":"Rest","channel":"C4","value":0.644,"jitter":-0.029},{"task":"Rest","channel":"C4","value":0.645,"jitter":-0.004},{"task":"Rest","channel":"C4","value":0.648,"jitter":0.005},{"task":"Rest","channel":"C4","value":0.639,"jitter":0.002},{"task":"Rest","channel":"C4","value":0.627,"jitter":-0.020},{"task":"Rest","channel":"C4","value":0.628,"jitter":0.034},{"task":"Rest","channel":"C4","value":0.613,"jitter":-0.028},{"task":"Rest","channel":"C4","value":0.617,"jitter":0.012},{"task":"Rest","channel":"C4","value":0.597,"jitter":0.019},{"task":"Rest","channel":"C4","value":0.543,"jitter":-0.003},
{"task":"Rest","channel":"Cz","value":0.933,"jitter":-0.011},{"task":"Rest","channel":"Cz","value":0.901,"jitter":0.012},{"task":"Rest","channel":"Cz","value":0.877,"jitter":-0.022},{"task":"Rest","channel":"Cz","value":0.867,"jitter":-0.009},{"task":"Rest","channel":"Cz","value":0.873,"jitter":0.008},{"task":"Rest","channel":"Cz","value":0.863,"jitter":0.044},{"task":"Rest","channel":"Cz","value":0.846,"jitter":-0.015},{"task":"Rest","channel":"Cz","value":0.847,"jitter":0.001},{"task":"Rest","channel":"Cz","value":0.845,"jitter":0.015},{"task":"Rest","channel":"Cz","value":0.847,"jitter":0.047},{"task":"Rest","channel":"Cz","value":0.838,"jitter":-0.005},{"task":"Rest","channel":"Cz","value":0.835,"jitter":-0.051},{"task":"Rest","channel":"Cz","value":0.835,"jitter":-0.028},{"task":"Rest","channel":"Cz","value":0.824,"jitter":-0.034},{"task":"Rest","channel":"Cz","value":0.829,"jitter":-0.015},{"task":"Rest","channel":"Cz","value":0.829,"jitter":0.005},{"task":"Rest","channel":"Cz","value":0.831,"jitter":0.044},{"task":"Rest","channel":"Cz","value":0.811,"jitter":-0.023},{"task":"Rest","channel":"Cz","value":0.812,"jitter":-0.012},{"task":"Rest","channel":"Cz","value":0.803,"jitter":-0.020},{"task":"Rest","channel":"Cz","value":0.796,"jitter":-0.001},{"task":"Rest","channel":"Cz","value":0.797,"jitter":0.037},{"task":"Rest","channel":"Cz","value":0.784,"jitter":0.010},{"task":"Rest","channel":"Cz","value":0.788,"jitter":0.025},{"task":"Rest","channel":"Cz","value":0.783,"jitter":-0.023},{"task":"Rest","channel":"Cz","value":0.778,"jitter":0.008},{"task":"Rest","channel":"Cz","value":0.771,"jitter":-0.015},{"task":"Rest","channel":"Cz","value":0.769,"jitter":-0.001},{"task":"Rest","channel":"Cz","value":0.768,"jitter":0.048},{"task":"Rest","channel":"Cz","value":0.755,"jitter":-0.064},{"task":"Rest","channel":"Cz","value":0.759,"jitter":-0.034},{"task":"Rest","channel":"Cz","value":0.753,"jitter":-0.019},{"task":"Rest","channel":"Cz","value":0.757,"jitter":-0.009},{"task":"Rest","channel":"Cz","value":0.754,"jitter":0.009},{"task":"Rest","channel":"Cz","value":0.763,"jitter":0.023},{"task":"Rest","channel":"Cz","value":0.757,"jitter":0.030},{"task":"Rest","channel":"Cz","value":0.748,"jitter":-0.037},{"task":"Rest","channel":"Cz","value":0.742,"jitter":-0.042},{"task":"Rest","channel":"Cz","value":0.733,"jitter":-0.032},{"task":"Rest","channel":"Cz","value":0.738,"jitter":-0.018},{"task":"Rest","channel":"Cz","value":0.746,"jitter":-0.005},{"task":"Rest","channel":"Cz","value":0.740,"jitter":-0.001},{"task":"Rest","channel":"Cz","value":0.739,"jitter":0.016},{"task":"Rest","channel":"Cz","value":0.737,"jitter":0.023},{"task":"Rest","channel":"Cz","value":0.745,"jitter":0.038},{"task":"Rest","channel":"Cz","value":0.739,"jitter":0.039},{"task":"Rest","channel":"Cz","value":0.725,"jitter":0.012},{"task":"Rest","channel":"Cz","value":0.729,"jitter":0.030},{"task":"Rest","channel":"Cz","value":0.727,"jitter":0.032},{"task":"Rest","channel":"Cz","value":0.718,"jitter":0.023},{"task":"Rest","channel":"Cz","value":0.717,"jitter":0.037},{"task":"Rest","channel":"Cz","value":0.727,"jitter":0.058},{"task":"Rest","channel":"Cz","value":0.705,"jitter":0.067},{"task":"Rest","channel":"Cz","value":0.702,"jitter":-0.031},{"task":"Rest","channel":"Cz","value":0.692,"jitter":-0.040},{"task":"Rest","channel":"Cz","value":0.690,"jitter":-0.013},{"task":"Rest","channel":"Cz","value":0.683,"jitter":-0.026},{"task":"Rest","channel":"Cz","value":0.688,"jitter":0.005},{"task":"Rest","channel":"Cz","value":0.700,"jitter":0.018},{"task":"Rest","channel":"Cz","value":0.697,"jitter":0.020},{"task":"Rest","channel":"Cz","value":0.694,"jitter":0.047},{"task":"Rest","channel":"Cz","value":0.693,"jitter":0.049},{"task":"Rest","channel":"Cz","value":0.678,"jitter":0.042},{"task":"Rest","channel":"Cz","value":0.679,"jitter":0.011},{"task":"Rest","channel":"Cz","value":0.671,"jitter":0.008},{"task":"Rest","channel":"Cz","value":0.666,"jitter":0.009},{"task":"Rest","channel":"Cz","value":0.671,"jitter":-0.046},{"task":"Rest","channel":"Cz","value":0.668,"jitter":-0.042},{"task":"Rest","channel":"Cz","value":0.659,"jitter":0.050},{"task":"Rest","channel":"Cz","value":0.649,"jitter":0.022},{"task":"Rest","channel":"Cz","value":0.648,"jitter":0.012},{"task":"Rest","channel":"Cz","value":0.645,"jitter":-0.040},{"task":"Rest","channel":"Cz","value":0.640,"jitter":-0.017},{"task":"Rest","channel":"Cz","value":0.629,"jitter":0.004},{"task":"Rest","channel":"Cz","value":0.624,"jitter":0.004},{"task":"Rest","channel":"Cz","value":0.623,"jitter":0.015},{"task":"Rest","channel":"Cz","value":0.620,"jitter":0.016},{"task":"Rest","channel":"Cz","value":0.611,"jitter":-0.039},{"task":"Rest","channel":"Cz","value":0.614,"jitter":-0.018},{"task":"Rest","channel":"Cz","value":0.603,"jitter":-0.022},{"task":"Rest","channel":"Cz","value":0.610,"jitter":0.003},{"task":"Rest","channel":"Cz","value":0.604,"jitter":0.030},{"task":"Rest","channel":"Cz","value":0.593,"jitter":0.030},{"task":"Rest","channel":"Cz","value":0.597,"jitter":-0.064},{"task":"Rest","channel":"Cz","value":0.583,"jitter":0.011},{"task":"Rest","channel":"Cz","value":0.579,"jitter":0.051},{"task":"Rest","channel":"Cz","value":0.577,"jitter":-0.033},{"task":"Rest","channel":"Cz","value":0.566,"jitter":-0.033},{"task":"Rest","channel":"Cz","value":0.558,"jitter":0.036},{"task":"Rest","channel":"Cz","value":0.536,"jitter":0.013},{"task":"Rest","channel":"Cz","value":0.485,"jitter":-0.031},{"task":"Rest","channel":"Cz","value":0.482,"jitter":0.012},{"task":"Rest","channel":"Cz","value":0.417,"jitter":0.036}
]},
"layer":[
{"data":{"name":"pts"},"transform":[{"filter":"datum.channel === 'C3'"}],
 "mark":{"type":"circle","size":125,"opacity":0.7,"stroke":"white","strokeWidth":0.8},
 "encoding":{
  "x":{"field":"task","type":"nominal","scale":{"type":"point","domain":["左腳","右腳","Rest"],"padding":0.4225,"align":0.53},
       "axis":{"title":null,"labelAngle":0,"labelFontSize":23,"labelColor":"black","labelFont":"Noto Sans CJK TC","tickColor":"black","tickSize":9,"tickWidth":1.2,"domain":false,"grid":false,"labelPadding":6}},
  "xOffset":{"field":"jitter","type":"quantitative","scale":{"domain":[-1,1],"range":[-783.5,500.9]}},
  "y":{"field":"value","type":"quantitative","scale":{"domain":[0.3875,0.989],"nice":false,"zero":false},
       "axis":{"title":"Normalized spectral entropy","titleFontSize":25,"titleFontWeight":"normal","titleColor":"black","titlePadding":8,"values":[0.4,0.5,0.6,0.7,0.8,0.9],"format":".1f","labelFontSize":23,"labelColor":"black","tickColor":"black","tickSize":9,"tickWidth":1.2,"domain":false,"grid":true,"gridColor":"#d8e3ec","gridWidth":1.5,"labelPadding":14}},
  "color":{"field":"channel","type":"nominal","scale":{"domain":["C3","C4","Cz"],"range":["#2a7a72","#cf4870","#3a76da"]},
       "legend":{"title":"Channel","orient":"none","legendX":1733,"legendY":21,"titleAnchor":"end","titleFontSize":25,"titleFontWeight":"normal","titleColor":"black","labelFontSize":25,"labelColor":"black","symbolType":"circle","symbolSize":130,"symbolOpacity":0.7,"labelOffset":36,"rowPadding":13,"titlePadding":15}}
 }},
{"data":{"name":"pts"},"transform":[{"filter":"datum.channel === 'C4'"}],
 "mark":{"type":"circle","size":125,"opacity":0.7,"stroke":"white","strokeWidth":0.8},
 "encoding":{
  "x":{"field":"task","type":"nominal"},
  "xOffset":{"field":"jitter","type":"quantitative","scale":{"domain":[-1,1],"range":[-642.2,642.2]}},
  "y":{"field":"value","type":"quantitative"},
  "color":{"field":"channel","type":"nominal"}
 }},
{"data":{"name":"pts"},"transform":[{"filter":"datum.channel === 'Cz'"}],
 "mark":{"type":"circle","size":125,"opacity":0.7,"stroke":"white","strokeWidth":0.8},
 "encoding":{
  "x":{"field":"task","type":"nominal"},
  "xOffset":{"field":"jitter","type":"quantitative","scale":{"domain":[-1,1],"range":[-500.9,783.5]}},
  "y":{"field":"value","type":"quantitative"},
  "color":{"field":"channel","type":"nominal"}
 }},
{"data":{"name":"stats"},
 "mark":{"type":"rule","strokeWidth":4},
 "encoding":{
  "x":{"field":"task","type":"nominal"},
  "xOffset":{"field":"channel","type":"nominal","scale":{"type":"point","domain":["C3","C4","Cz"],"range":[-141.3,141.3],"padding":0}},
  "y":{"field":"lo","type":"quantitative"},
  "y2":{"field":"hi"},
  "color":{"field":"channel","type":"nominal","legend":null}
 }},
{"data":{"name":"stats"},
 "mark":{"type":"tick","orient":"horizontal","size":25,"thickness":3,"opacity":1},
 "encoding":{
  "x":{"field":"task","type":"nominal"},
  "xOffset":{"field":"channel","type":"nominal","scale":{"type":"point","domain":["C3","C4","Cz"],"range":[-141.3,141.3],"padding":0}},
  "y":{"field":"lo","type":"quantitative"},
  "color":{"field":"channel","type":"nominal","legend":null}
 }},
{"data":{"name":"stats"},
 "mark":{"type":"tick","orient":"horizontal","size":25,"thickness":3,"opacity":1},
 "encoding":{
  "x":{"field":"task","type":"nominal"},
  "xOffset":{"field":"channel","type":"nominal","scale":{"type":"point","domain":["C3","C4","Cz"],"range":[-141.3,141.3],"padding":0}},
  "y":{"field":"hi","type":"quantitative"},
  "color":{"field":"channel","type":"nominal","legend":null}
 }},
{"data":{"name":"stats"},
 "mark":{"type":"point","filled":true,"size":300,"opacity":1,"stroke":"black","strokeWidth":2.5},
 "encoding":{
  "x":{"field":"task","type":"nominal"},
  "xOffset":{"field":"channel","type":"nominal","scale":{"type":"point","domain":["C3","C4","Cz"],"range":[-141.3,141.3],"padding":0}},
  "y":{"field":"mean","type":"quantitative"},
  "color":{"field":"channel","type":"nominal","legend":null}
 }}
],
"resolve":{"scale":{"xOffset":"independent"}}
}
